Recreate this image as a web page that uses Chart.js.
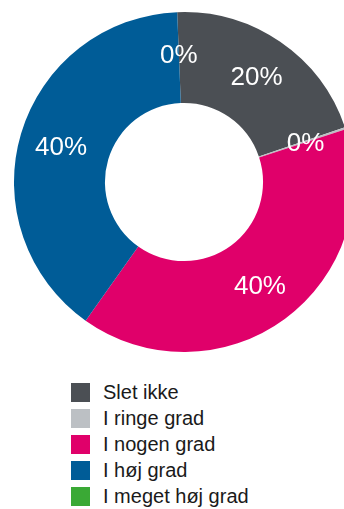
<!DOCTYPE html>
<html lang="da">
<head>
    <meta charset="UTF-8">
    <title>Grad</title>
    <script src="https://cdn.jsdelivr.net/npm/chart.js"></script>
    <style>
        html, body {
            margin: 0;
            padding: 0;
            background: #fff;
            overflow: hidden;
            width: 344px;
            height: 509px;
        }

        /* ring is a bit wider than the page and gets cut off on the right */
        .chart-box {
            position: absolute;
            left: 0;
            top: 0;
            width: 368px;
            height: 364px;
        }

        #legend {
            position: absolute;
            left: 71px;
            top: 383px;
            margin: 0;
            padding: 0;
            list-style: none;
            font-family: "Liberation Sans", Arial, sans-serif;
            font-size: 20px;
            color: #1a1a1a;
        }

        #legend li {
            display: flex;
            align-items: center;
            height: 19px;
            margin-bottom: 7px;
            white-space: nowrap;
        }

        #legend .swatch {
            width: 19px;
            height: 19px;
            margin-right: 13px;
            flex: none;
        }
    </style>
</head>
<body>
    <div class="chart-box">
        <canvas id="ring"></canvas>
    </div>
    <ul id="legend"></ul>

    <script>
        // answer categories and share of answers (%)
        const categories = ["Slet ikke", "I ringe grad", "I nogen grad", "I høj grad", "I meget høj grad"];
        const shares = [20.4, 0.2, 39.8, 39.5, 0];
        const colors = ["#4b4f54", "#bcc0c4", "#e0006a", "#005c97", "#3aa935"];

        // percent text inside each slice
        const sliceLabels = {
            id: 'sliceLabels',
            afterDatasetsDraw(chart) {
                const ctx = chart.ctx;
                const total = shares.reduce((a, b) => a + b, 0);
                ctx.save();
                ctx.font = '26px "Liberation Sans", Arial, sans-serif';
                ctx.fillStyle = '#fff';
                ctx.textAlign = 'center';
                ctx.textBaseline = 'middle';
                chart.getDatasetMeta(0).data.forEach((arc, i) => {
                    const p = arc.getProps(['x', 'y', 'startAngle', 'endAngle', 'innerRadius', 'outerRadius'], true);
                    const mid = (p.startAngle + p.endAngle) / 2;
                    const r = p.innerRadius + (p.outerRadius - p.innerRadius) * 0.54;
                    // digits sit a little high on 'middle', nudge them down
                    ctx.fillText(Math.round(shares[i] / total * 100) + '%', p.x + Math.cos(mid) * r, p.y + Math.sin(mid) * r + 2);
                });
                ctx.restore();
            }
        };

        const chart = new Chart(document.getElementById('ring'), {
            type: 'doughnut',
            data: {
                labels: categories,
                datasets: [{
                    data: shares,
                    backgroundColor: colors,
                    borderWidth: 0
                }]
            },
            options: {
                responsive: true,
                maintainAspectRatio: false,
                animation: false,
                events: [],
                rotation: -2.3,
                cutout: '46.5%',
                layout: { padding: { top: 12, bottom: 12, left: 14, right: 14 } },
                plugins: {
                    legend: { display: false },
                    tooltip: { enabled: false }
                }
            },
            plugins: [sliceLabels]
        });

        // legend list below the ring
        const legendEl = document.getElementById('legend');
        chart.data.labels.forEach((label, i) => {
            const li = document.createElement('li');
            const sw = document.createElement('span');
            sw.className = 'swatch';
            sw.style.background = chart.data.datasets[0].backgroundColor[i];
            li.appendChild(sw);
            li.appendChild(document.createTextNode(label));
            legendEl.appendChild(li);
        });
    </script>
</body>
</html>
